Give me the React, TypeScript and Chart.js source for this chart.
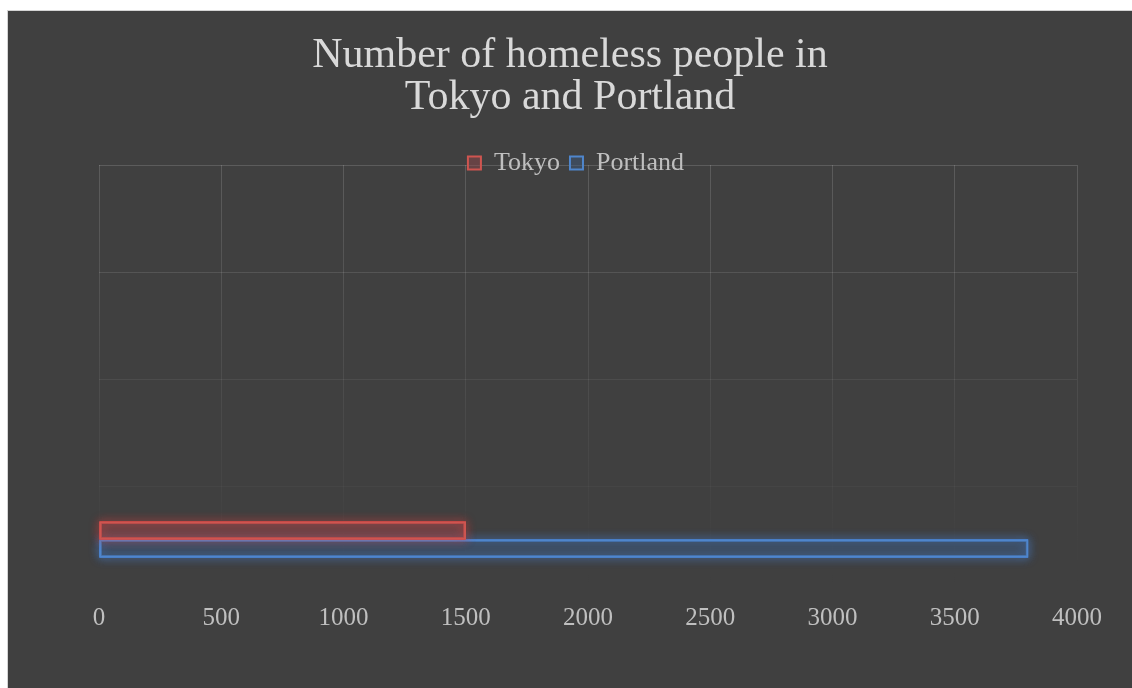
import React, { useEffect, useRef } from 'react';
import { Chart, registerables } from 'chart.js';

Chart.register(...registerables);

const titleLines = ['Number of homeless people in', 'Tokyo and Portland'];
const categories = ['', '', '', ''];
const seriesNames = ['Tokyo', 'Portland'];
const tokyoValues = [null, null, null, 1500];
const portlandValues = [null, null, null, 3800];
const xMin = 0;
const xMax = 4000;
const xStep = 500;

const FONT = "'Liberation Serif', 'Times New Roman', serif";

const gridColor = (c: any) => {
  const chart = c.chart;
  const a = chart.chartArea;
  if (!a) return 'rgba(255,255,255,0.12)';
  const g = chart.ctx.createLinearGradient(0, a.top, 0, a.bottom);
  g.addColorStop(0, 'rgba(255,255,255,0.15)');
  g.addColorStop(0.85, 'rgba(255,255,255,0.01)');
  g.addColorStop(1, 'rgba(255,255,255,0)');
  return g;
};

// soft glow behind each bar, using the bar elements' own geometry
const glowPlugin = {
  id: 'glow',
  beforeDatasetDraw(chart: any, args: any) {
    const ds = chart.data.datasets[args.index];
    const meta = args.meta;
    const ctx = chart.ctx;
    ctx.save();
    ctx.shadowColor = ds.glowColor;
    ctx.shadowBlur = 10;
    ctx.strokeStyle = ds.glowColor;
    ctx.lineWidth = 2;
    meta.data.forEach((el: any) => {
      const p = el.getProps(['x', 'y', 'base', 'height'], true);
      if (p.x == null || isNaN(p.x)) return;
      const left = Math.min(p.base, p.x);
      const w = Math.abs(p.x - p.base);
      if (!w) return;
      ctx.strokeRect(left + 1, p.y - p.height / 2 + 1, w - 2, p.height - 2);
      ctx.strokeRect(left + 1, p.y - p.height / 2 + 1, w - 2, p.height - 2);
    });
    ctx.restore();
  },
};

const headerLayout = {
  id: 'headerLayout',
  afterLayout(chart: any) {
    const t = chart.titleBlock;
    if (t) {
      t.left = 0;
      t.right = chart.width;
    }
    const l = chart.legend;
    if (!l) return;
    const h = l.height;
    l.left = 12;
    l.right = chart.width;
    l.top = chart.chartArea.top - h / 2 - 2;
    l.bottom = l.top + h;
  },
};

export default function App() {
  const ref = useRef<HTMLCanvasElement>(null);
  useEffect(() => {
    if (!ref.current) return;
    const chart = new Chart(ref.current, {
      type: 'bar',
      data: {
        labels: categories,
        datasets: [
          {
            label: seriesNames[0],
            data: tokyoValues,
            backgroundColor: 'rgba(150,70,75,0.45)',
            borderColor: '#cf5550',
            borderWidth: 2,
            borderSkipped: false,
            barThickness: 18,
            glowColor: 'rgba(225,60,60,0.85)',
          } as any,
          {
            label: seriesNames[1],
            data: portlandValues,
            backgroundColor: 'rgba(60,85,120,0.5)',
            borderColor: '#4f86cc',
            borderWidth: 2,
            borderSkipped: false,
            barThickness: 18,
            glowColor: 'rgba(70,140,240,0.85)',
          } as any,
        ],
      },
      options: {
        indexAxis: 'y',
        responsive: false,
        animation: false,
        devicePixelRatio: 1,
        layout: { padding: { left: 91, right: 55, top: 0, bottom: 45 } },
        plugins: {
          title: {
            display: true,
            text: titleLines,
            color: '#d9d9d9',
            font: { family: FONT, size: 42, weight: 'normal', lineHeight: 1.0 },
            padding: { top: 24, bottom: 0 },
          },
          legend: {
            display: true,
            position: 'top',
            labels: {
              color: '#bfbfbf',
              font: { family: FONT, size: 26 },
              boxWidth: 13,
              boxHeight: 13,
              padding: 10,
            },
          },
          tooltip: { enabled: false },
        },
        scales: {
          x: {
            type: 'linear',
            min: xMin,
            max: xMax,
            z: -1,
            ticks: {
              stepSize: xStep,
              color: '#bfbfbf',
              font: { family: FONT, size: 25 },
              padding: 10,
              callback: (v: any) => String(v),
            },
            grid: { color: gridColor, drawTicks: false, lineWidth: 1 },
            border: { display: false },
          },
          y: {
            type: 'category',
            offset: true,
            z: -1,
            ticks: { display: false },
            grid: { color: gridColor, drawTicks: false, offset: true, lineWidth: 1 },
            border: { display: false },
          },
        },
      },
      plugins: [glowPlugin, headerLayout],
    });
    return () => chart.destroy();
  }, []);

  return (
    <div
      style={{
        position: 'absolute',
        left: 7,
        top: 10,
        width: 1124,
        height: 677,
        border: '1px solid #d4d4d4',
        background: '#404040',
      }}
    >
      <canvas ref={ref} width={1124} height={677} style={{ display: 'block', width: 1124, height: 677 }} />
    </div>
  );
}
